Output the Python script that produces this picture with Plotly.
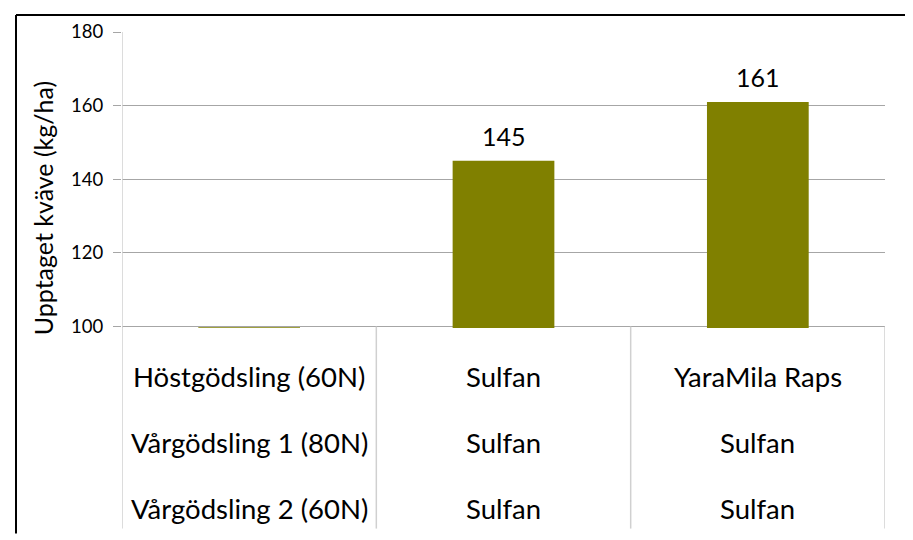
import plotly.graph_objects as go

# ---- data ----
categories = ["Kontroll", "Sulfan", "YaraMila Raps"]
uptake = [99.8, 145, 161]
value_labels = ["", "145", "161"]
row_names = ["Höstgödsling (60N)", "Vårgödsling 1 (80N)", "Vårgödsling 2 (60N)"]
treat_b = ["Sulfan", "Sulfan", "Sulfan"]
treat_c = ["YaraMila Raps", "Sulfan", "Sulfan"]
y_ticks = [100, 120, 140, 160, 180]
y_title = "Upptaget kväve (kg/ha)"

BAR = "#808000"
GRID = "#a6a6a6"
SEP = "#d0d0d0"
FONT = "Lato, Carlito, Calibri, sans-serif"

OFF = 8  # page body margin
W, H = 913 - OFF, 540 - OFF
L = 122 - OFF
T = 24 - OFF
R = W - (885 - OFF)
B = H - (328 - OFF)
pw = W - L - R
ph = H - T - B

def px_y(ypx):
    return (H - B - (ypx - OFF)) / ph

def px_x(xpx):
    return ((xpx - OFF) - L) / pw

fig = go.Figure()
fig.add_trace(go.Bar(
    x=list(range(len(categories))), y=uptake,
    marker=dict(color=BAR, line=dict(width=0)),
    width=0.4, hoverinfo="skip",
))

ann = []
for i, (v, lab) in enumerate(zip(uptake, value_labels)):
    if lab:
        ann.append(dict(x=i, y=v, xref="x", yref="y", text=lab, showarrow=False,
                        yanchor="bottom", yshift=8, font=dict(size=25, color="#000000")))

table_cols = [row_names, treat_b, treat_c]
row_y = [378, 446, 513]
for ci, col in enumerate(table_cols):
    for ri, txt in enumerate(col):
        ann.append(dict(x=ci, y=px_y(row_y[ri]), xref="x", yref="paper", text=txt,
                        showarrow=False, xanchor="center", yanchor="middle",
                        font=dict(size=27.5, color="#000000")))

ann.append(dict(x=px_x(43), y=px_y(205), xref="paper", yref="paper", text=y_title,
                textangle=-90, showarrow=False, xanchor="center", yanchor="middle",
                font=dict(size=25, color="#000000")))

shapes = []
for xv in [-0.5, 0.5, 1.5, 2.5]:
    shapes.append(dict(type="line", xref="x", yref="paper", x0=xv, x1=xv,
                       y0=px_y(326.5), y1=px_y(534), line=dict(color=SEP, width=1.5)))
shapes.append(dict(type="line", xref="x", yref="paper", x0=-0.5, x1=-0.5,
                   y0=0, y1=1, line=dict(color=SEP, width=1.5)))
# outer frame as separate lines
bx0, bx1, by0, by1 = px_x(16), px_x(906), px_y(6.5), px_y(539)
border = dict(color="#000000", width=2)
shapes += [
    dict(type="line", xref="paper", yref="paper", x0=bx0, x1=bx1, y0=by0, y1=by0, line=border, layer="above"),
    dict(type="line", xref="paper", yref="paper", x0=bx0, x1=bx0, y0=by1, y1=by0, line=border, layer="above"),
    dict(type="line", xref="paper", yref="paper", x0=bx1, x1=bx1, y0=by0, y1=by1, line=border, layer="above"),
]

fig.update_layout(
    width=W, height=H,
    margin=dict(l=L, r=R, t=T, b=B),
    paper_bgcolor="white", plot_bgcolor="white",
    font=dict(family=FONT, color="#000000"),
    showlegend=False,
    annotations=ann, shapes=shapes,
    xaxis=dict(range=[-0.5, 2.5], showticklabels=False, showgrid=False,
               zeroline=False, showline=False, ticks=""),
    yaxis=dict(range=[99.6, 180], tickvals=y_ticks, ticktext=[str(t) for t in y_ticks],
               showgrid=True, gridcolor=GRID, gridwidth=1, zeroline=False,
               showline=False, ticks="outside", ticklen=8, tickcolor=GRID,
               ticklabelstandoff=6,
               tickfont=dict(size=18.5, color="#000000")),
)

fig.write_html("out.html")
